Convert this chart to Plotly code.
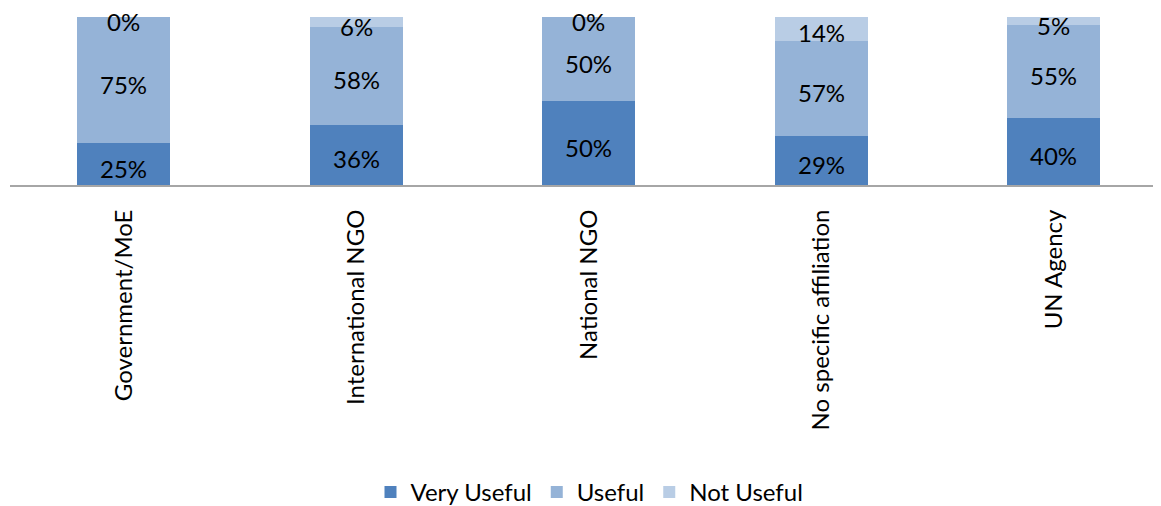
import plotly.graph_objects as go

categories = ["Government/MoE", "International NGO", "National NGO", "No specific affiliation", "UN Agency"]
very_useful = [25, 36, 50, 29, 40]
useful = [75, 58, 50, 57, 55]
not_useful = [0, 6, 0, 14, 5]

series = [
    ("Very Useful", very_useful, "#4F81BD"),
    ("Useful", useful, "#95B3D7"),
    ("Not Useful", not_useful, "#B9CDE5"),
]

FONT = "Lato"
FS = 24
fig = go.Figure()
base = [0] * len(categories)
for name, vals, color in series:
    fig.add_trace(go.Bar(
        name=name, x=categories, y=vals, marker=dict(color=color, line=dict(width=0)),
        width=0.4, hoverinfo="x+y+name",
    ))
    for cat, b, v in zip(categories, base, vals):
        fig.add_annotation(
            x=cat, y=b + v / 2, xref="x", yref="y", text=f"{v}%", showarrow=False,
            yshift=-4, font=dict(family=FONT, size=FS, color="#000000"),
        )
    base = [b + v for b, v in zip(base, vals)]

fig.update_layout(
    barmode="stack",
    width=1161, height=506,
    margin=dict(l=2, r=0, t=9, b=329, autoexpand=False),
    plot_bgcolor="white", paper_bgcolor="white",
    font=dict(family=FONT, size=FS, color="#000000"),
    showlegend=True,
    legend=dict(orientation="h", x=0.5, xanchor="center", y=-1.83, yanchor="middle",
                font=dict(family=FONT, size=FS), traceorder="normal", itemwidth=30),
    xaxis=dict(range=[-0.49, 4.495], tickangle=-90, showline=True, linecolor="#A6A6A6", linewidth=2,
               ticks="", showgrid=False, ticklabelstandoff=13, automargin=False,
               tickfont=dict(family=FONT, size=FS)),
    yaxis=dict(range=[0, 100], visible=False, showgrid=False, zeroline=False, automargin=False),
)

fig.write_html("out.html")
